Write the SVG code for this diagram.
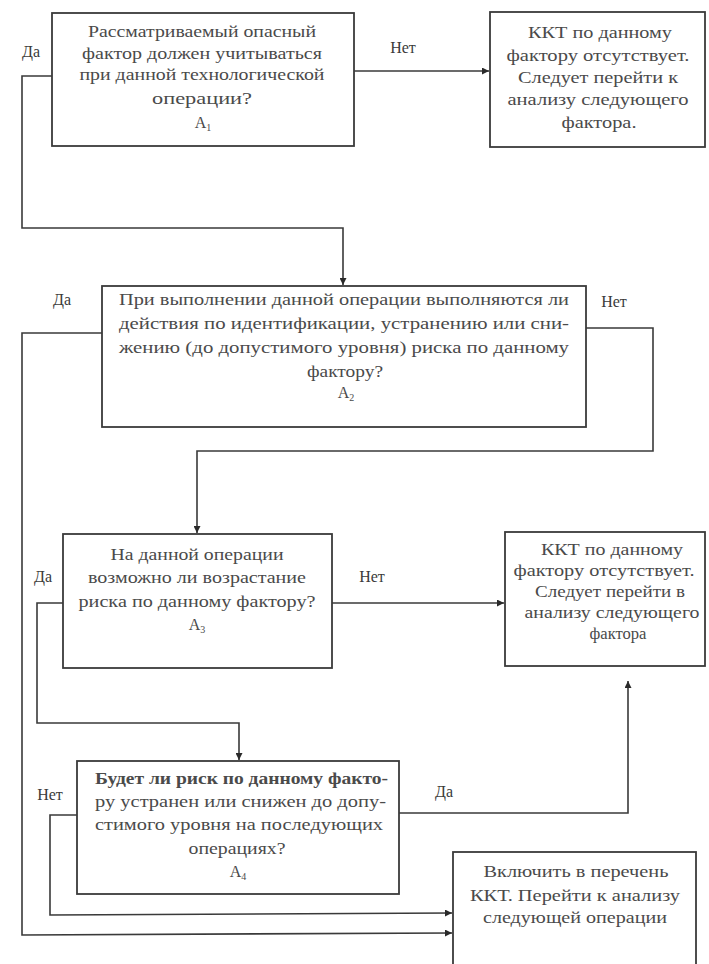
<svg xmlns="http://www.w3.org/2000/svg" width="709" height="964" viewBox="0 0 709 964">
<style>
.box{fill:#fff;stroke:#3a3a3a;stroke-width:1.8}
.t{font-family:"Liberation Serif","Times New Roman",serif;font-size:16px;fill:#4a4a4a}
.c{text-anchor:middle}
.ln{fill:none;stroke:#3a3a3a;stroke-width:1.6}
.lb{font-family:"Liberation Serif","Times New Roman",serif;font-size:16px;fill:#3a3a3a}
</style>
<defs>
<marker id="ah" viewBox="0 0 10 10" refX="10" refY="5" markerWidth="7" markerHeight="7" markerUnits="userSpaceOnUse" orient="auto">
<path d="M0,0 L10,5 L0,10 z" fill="#2a2a2a"/>
</marker>
</defs>
<rect width="709" height="964" fill="#fff"/>

<g id="connectors">
<path class="ln" d="M354,71 H489" marker-end="url(#ah)"/>
<path class="ln" d="M52,76 H22 V228 H343 V285" marker-end="url(#ah)"/>
<path class="ln" d="M586,328 H653 V451 H197 V533" marker-end="url(#ah)"/>
<path class="ln" d="M102,333 H22 V935 L452,933" marker-end="url(#ah)"/>
<path class="ln" d="M332,603 H504" marker-end="url(#ah)"/>
<path class="ln" d="M63,603 H37 V723 H239 V760" marker-end="url(#ah)"/>
<path class="ln" d="M399,813 H628 V681" marker-end="url(#ah)"/>
<path class="ln" d="M77,815 H50 V915 L452,913" marker-end="url(#ah)"/>
<text class="lb" x="403" y="53" text-anchor="middle">Нет</text>
<text class="lb" x="31" y="57" text-anchor="middle">Да</text>
<text class="lb" x="614" y="307" text-anchor="middle">Нет</text>
<text class="lb" x="62" y="305" text-anchor="middle">Да</text>
<text class="lb" x="372" y="582" text-anchor="middle">Нет</text>
<text class="lb" x="43" y="582" text-anchor="middle">Да</text>
<text class="lb" x="444" y="797" text-anchor="middle">Да</text>
<text class="lb" x="50" y="800" text-anchor="middle">Нет</text>
</g>

<g id="n1">
<rect class="box" x="52" y="13" width="302" height="133"/>
<text class="t c" x="202" y="37" textLength="228" lengthAdjust="spacingAndGlyphs">Рассматриваемый опасный</text>
<text class="t c" x="202" y="59" textLength="240" lengthAdjust="spacingAndGlyphs">фактор должен учитываться</text>
<text class="t c" x="202" y="80" textLength="245" lengthAdjust="spacingAndGlyphs">при данной технологической</text>
<text class="t c" x="202" y="104" textLength="100" lengthAdjust="spacingAndGlyphs">операции?</text>
<text class="t c" x="203" y="128">A<tspan font-size="10" dy="3">1</tspan></text>
</g>

<g id="n2">
<rect class="box" x="490" y="12" width="215" height="135"/>
<text class="t c" x="600" y="38" textLength="144" lengthAdjust="spacingAndGlyphs">ККТ по данному</text>
<text class="t c" x="598" y="61" textLength="183" lengthAdjust="spacingAndGlyphs">фактору отсутствует.</text>
<text class="t c" x="598" y="83" textLength="160" lengthAdjust="spacingAndGlyphs">Следует перейти к</text>
<text class="t c" x="598" y="105" textLength="181" lengthAdjust="spacingAndGlyphs">анализу следующего</text>
<text class="t c" x="599" y="128" textLength="75" lengthAdjust="spacingAndGlyphs">фактора.</text>
</g>

<g id="n3">
<rect class="box" x="102" y="286" width="484" height="141"/>
<text class="t c" x="344" y="305" textLength="450" lengthAdjust="spacingAndGlyphs">При выполнении данной операции выполняются ли</text>
<text class="t c" x="344" y="329" textLength="450" lengthAdjust="spacingAndGlyphs">действия по идентификации, устранению или сни-</text>
<text class="t c" x="344" y="353" textLength="450" lengthAdjust="spacingAndGlyphs">жению (до допустимого уровня) риска по данному</text>
<text class="t c" x="345" y="377" textLength="76" lengthAdjust="spacingAndGlyphs">фактору?</text>
<text class="t c" x="346" y="398">A<tspan font-size="10" dy="3">2</tspan></text>
</g>

<g id="n4">
<rect class="box" x="63" y="534" width="269" height="134"/>
<text class="t c" x="197" y="560" textLength="173" lengthAdjust="spacingAndGlyphs">На данной операции</text>
<text class="t c" x="197" y="583" textLength="218" lengthAdjust="spacingAndGlyphs">возможно ли возрастание</text>
<text class="t c" x="197" y="607" textLength="237" lengthAdjust="spacingAndGlyphs">риска по данному фактору?</text>
<text class="t c" x="197" y="630">A<tspan font-size="10" dy="3">3</tspan></text>
</g>

<g id="n5">
<rect class="box" x="505" y="532" width="200" height="134"/>
<text class="t c" x="612" y="555" textLength="142" lengthAdjust="spacingAndGlyphs">ККТ по данному</text>
<text class="t c" x="604" y="576" textLength="181" lengthAdjust="spacingAndGlyphs">фактору отсутствует.</text>
<text class="t c" x="610" y="597" textLength="150" lengthAdjust="spacingAndGlyphs">Следует перейти в</text>
<text class="t c" x="612" y="618" textLength="175" lengthAdjust="spacingAndGlyphs">анализу следующего</text>
<text class="t c" x="618" y="639" textLength="57" lengthAdjust="spacingAndGlyphs">фактора</text>
</g>

<g id="n6">
<rect class="box" x="77" y="761" width="322" height="133"/>
<text class="t" x="95" y="784" textLength="293" lengthAdjust="spacingAndGlyphs" font-weight="bold">Будет ли риск по данному факто-</text>
<text class="t" x="95" y="807" textLength="291" lengthAdjust="spacingAndGlyphs">ру устранен или снижен до допу-</text>
<text class="t" x="95" y="830" textLength="288" lengthAdjust="spacingAndGlyphs">стимого уровня на последующих</text>
<text class="t c" x="237" y="854" textLength="97" lengthAdjust="spacingAndGlyphs">операциях?</text>
<text class="t c" x="238" y="877">A<tspan font-size="10" dy="3">4</tspan></text>
</g>

<g id="n7">
<rect class="box" x="453" y="852" width="243" height="130"/>
<text class="t c" x="576" y="877" textLength="185" lengthAdjust="spacingAndGlyphs">Включить в перечень</text>
<text class="t c" x="575" y="901" textLength="210" lengthAdjust="spacingAndGlyphs">ККТ. Перейти к анализу</text>
<text class="t c" x="575" y="923" textLength="184" lengthAdjust="spacingAndGlyphs">следующей операции</text>
</g>
</svg>
